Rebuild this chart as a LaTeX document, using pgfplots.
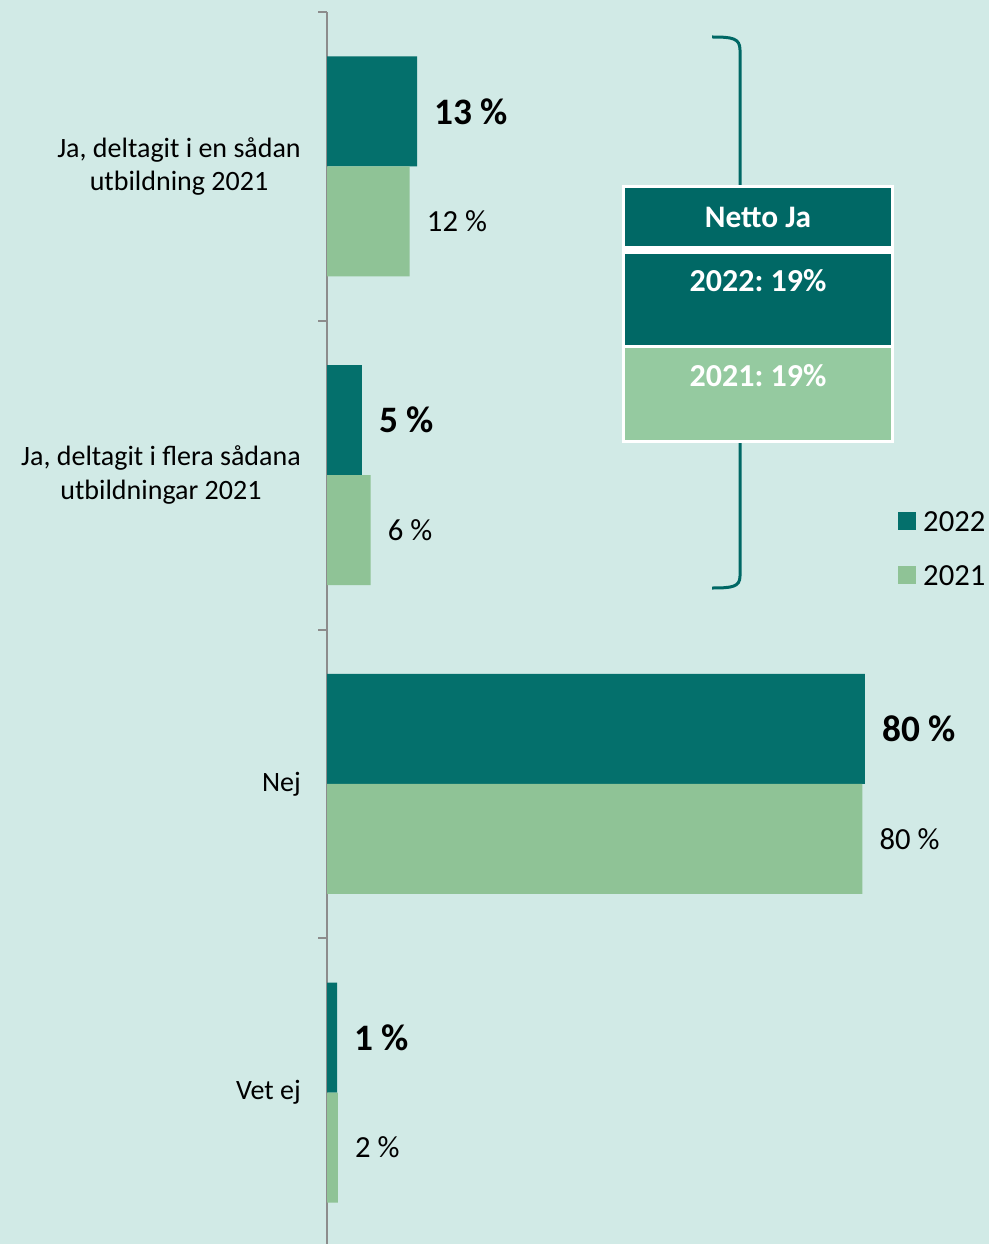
\documentclass[border=0pt]{standalone}
\usepackage{pgfplots}
\pgfplotsset{compat=1.18}
\usepackage{fontspec}
\setmainfont{Carlito}
\frenchspacing
\definecolor{bg}{HTML}{D1EAE6}
\definecolor{c22}{HTML}{04706C}
\definecolor{c21}{HTML}{8FC396}
\definecolor{box22}{HTML}{006865}
\definecolor{box21}{HTML}{95CAA0}
\definecolor{axgray}{HTML}{8C8C8C}
\begin{document}
\begin{tikzpicture}
\path[use as bounding box, clip] (0,0) rectangle (741.75pt,-933pt);
\fill[bg] (0,0) rectangle (741.75pt,-933pt);
\begin{axis}[
  at={(245.25pt,-935.25pt)}, anchor=south west,
  scale only axis, width=496.5pt, height=926.25pt,
  xbar, bar width=0.356,
  xmin=0, xmax=98.44, ymin=-0.5, ymax=3.5,
  axis x line=none, axis y line*=left,
  axis line style={axgray, line width=1.5pt},
  ytick={0,1,2,3},
  yticklabels={Vet ej, Nej, {Ja, deltagit i flera sådana\\utbildningar 2021}, {Ja, deltagit i en sådan\\utbildning 2021}},
  yticklabel style={align=center, font=\fontsize{21}{25}\selectfont, inner sep=0pt},
  yticklabel shift=19.5pt,
  major tick length=0pt,
  minor ytick={-0.5,0.5,1.5,2.5,3.5},
  minor tick length=6.75pt,
  tick align=outside,
  minor tick style={axgray, line width=1.5pt},
  point meta=explicit symbolic,
  nodes near coords,
  legend style={draw=none, fill=none, at={(0.8625,0.5960)}, anchor=north west,
    font=\fontsize{23}{28}\selectfont, inner sep=0pt, row sep=24.5pt,
    /tikz/column sep=5.25pt,
    nodes={inner sep=0pt}},
  legend cell align=left,
  legend image code/.code={\fill[#1] (0pt,-5.5pt) rectangle (13.5pt,8pt);},
]
\addplot[fill=c22, draw=none, bar shift=0.178,
  every node near coord/.append style={anchor=west, inner sep=0pt, xshift=12.75pt, font=\fontsize{28}{32}\selectfont\bfseries}]
  coordinates {(13.4,3) [13 \%] (5.2,2) [5 \%] (80,1) [80 \%] (1.5,0) [1 \%]};
\addlegendentry{2022}
\addplot[fill=c21, draw=none, bar shift=-0.178,
  every node near coord/.append style={anchor=west, inner sep=0pt, xshift=12.75pt, font=\fontsize{23}{28}\selectfont}]
  coordinates {(12.3,3) [12 \%] (6.5,2) [6 \%] (79.6,1) [80 \%] (1.6,0) [2 \%]};
\addlegendentry{2021}
\end{axis}
\begin{scope}[x=0.75pt, y=-0.75pt]
  \draw[box22, line width=2.25pt] (712,37) .. controls (732,37) and (740,38) .. (740,50) -- (740,187);
  \draw[box22, line width=2.25pt] (740,442) -- (740,576) .. controls (740,587) and (732,588) .. (712,588);
  \fill[white] (622,185) rectangle (894,443);
  \fill[box22] (625,188) rectangle (891,246);
  \fill[box22] (625,254) rectangle (891,345);
  \fill[box21] (625,348) rectangle (891,440);
  \node[white, font=\fontsize{23.5}{28}\selectfont\bfseries] at (758,217) {Netto Ja};
  \node[white, font=\fontsize{24}{28}\selectfont\bfseries] at (758,281) {2022: 19\%};
  \node[white, font=\fontsize{24}{28}\selectfont\bfseries] at (758,376) {2021: 19\%};
\end{scope}
\end{tikzpicture}
\end{document}
